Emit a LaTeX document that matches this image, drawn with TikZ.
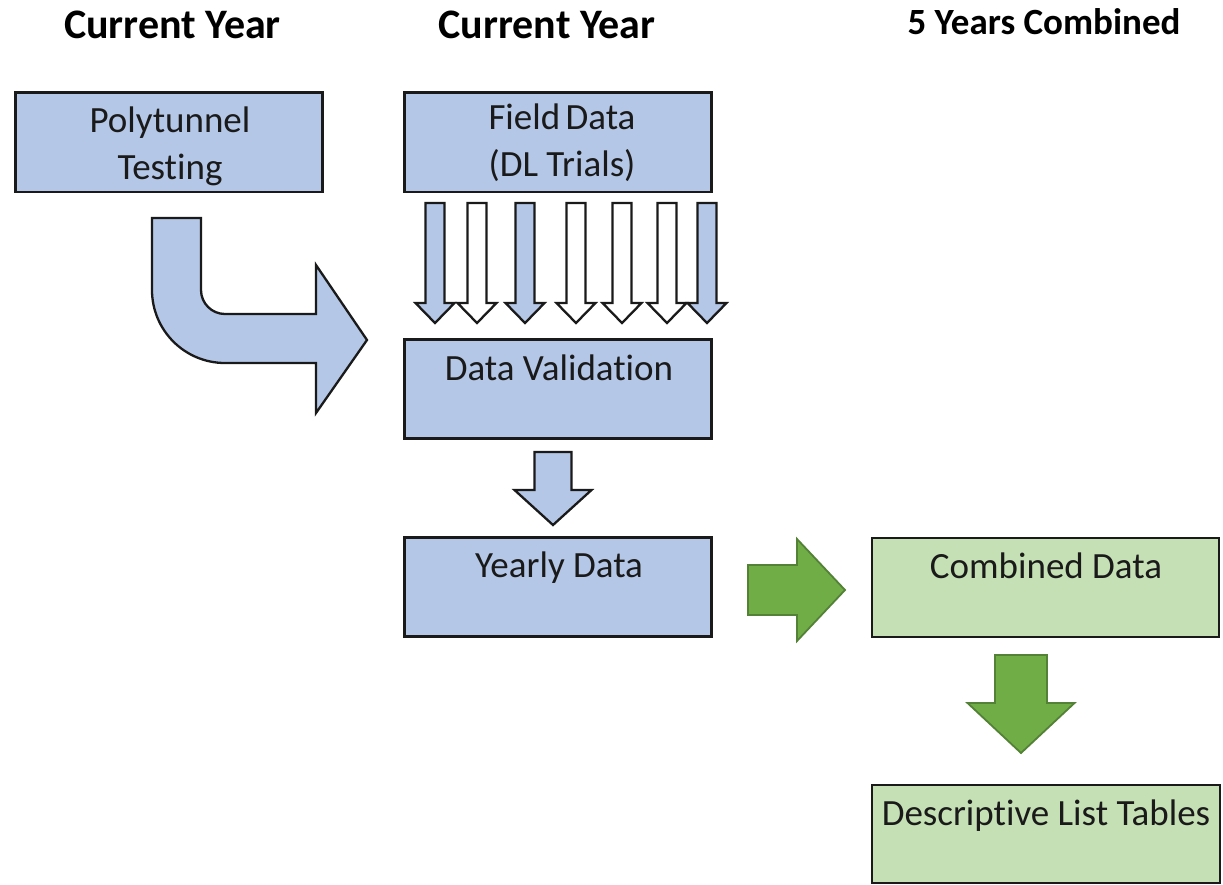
\documentclass[tikz,border=0pt]{standalone}
\usepackage{fontspec}
\setmainfont{Carlito}[Ligatures={NoCommon,NoContextual}]
\definecolor{boxblue}{HTML}{B4C7E7}
\definecolor{boxgreen}{HTML}{C5E0B4}
\definecolor{arrgreen}{HTML}{70AD47}
\definecolor{arrgreenline}{HTML}{538135}
\definecolor{edgedark}{HTML}{1A1A1A}
\tikzset{
  bluebox/.style={draw=edgedark, line width=2.5pt, fill=boxblue, inner sep=0pt},
  greenbox/.style={draw=edgedark, line width=2.5pt, fill=boxgreen, inner sep=0pt},
  boxtext/.style={font=\fontsize{37pt}{47pt}\selectfont, text=edgedark, inner sep=0pt, align=center},
  title/.style={font=\fontsize{42pt}{48pt}\selectfont\bfseries, inner sep=0pt},
  blockblue/.style={draw=edgedark, line width=2.3pt, fill=boxblue, line join=miter},
  blockwhite/.style={draw=edgedark, line width=2.3pt, fill=white, line join=miter},
  blockgreen/.style={draw=arrgreenline, line width=1.8pt, fill=arrgreen, line join=miter}
}
% down block arrow: style, cx, top y, head base y, tip y, half shaft, half head
\newcommand\DArr[7]{%
  \draw[#1] (#2-#6,#3) -- (#2+#6,#3) -- (#2+#6,#4) -- (#2+#7,#4) -- (#2,#5)
    -- (#2-#7,#4) -- (#2-#6,#4) -- cycle;}
\begin{document}
\begin{tikzpicture}[x=1pt,y=-1pt]
\useasboundingbox (0,0) rectangle (1223,884);

% titles
\node[title, anchor=base] (t1) at (172.5,38) {Current Year};
\node[title, anchor=base] (t2) at (547,38) {Current Year};
\node[title, anchor=base, font=\fontsize{37pt}{44pt}\selectfont\bfseries] (t3) at (1044,34) {5 Years Combined};

% boxes
\node[bluebox, minimum width=307pt, minimum height=99.5pt] (poly) at (169,142) {};
\node[bluebox, minimum width=307pt, minimum height=99.5pt] (field) at (558,142) {};
\node[bluebox, minimum width=307pt, minimum height=99pt] (valid) at (558,389) {};
\node[bluebox, minimum width=307pt, minimum height=99pt] (yearly) at (558,587) {};
\node[greenbox, minimum width=347pt, minimum height=99pt] (comb) at (1045.5,587.5) {};
\node[greenbox, minimum width=348pt, minimum height=98pt] (desc) at (1046,834) {};

% box texts
\node[boxtext] (polyT) at (170,146) {Polytunnel\\Testing};
\node[boxtext] (fieldT) at (562,143) {Field\hspace{-3pt} Data\\(DL Trials)};
\node[boxtext, anchor=base] (validT) at (559,380) {Data Validation};
\node[boxtext, anchor=base] (yearlyT) at (559,577) {Yearly Data};
\node[boxtext, anchor=base] (combT) at (1046,578) {Combined Data};
\node[boxtext, anchor=base] (descT) at (1046,825) {Descriptive List Tables};

% curved arrow from polytunnel to validation
\draw[blockblue] (152,218) -- (201,218) -- (201,290)
  arc[start angle=180, end angle=270, radius=24pt]
  -- (316,314) -- (316,265) -- (367,340) -- (316,413) -- (316,363) -- (225,363)
  arc[start angle=270, end angle=180, radius=73pt] -- cycle;

% row of arrows from field data
\DArr{blockblue}{435}{203}{303}{323}{9.5}{19.5}
\DArr{blockwhite}{477}{203}{303}{323}{9.5}{19.5}
\DArr{blockblue}{525}{203}{303}{323}{9.5}{19.5}
\DArr{blockwhite}{576}{203}{303}{323}{9.5}{19.5}
\DArr{blockwhite}{622}{203}{303}{323}{9.5}{19.5}
\DArr{blockwhite}{667}{203}{303}{323}{9.5}{19.5}
\DArr{blockblue}{707}{203}{303}{323}{9.5}{19.5}

% validation -> yearly
\DArr{blockblue}{553}{452}{490}{525}{18.5}{38.5}

% yearly -> combined
\draw[blockgreen] (748,565) -- (797,565) -- (797,539) -- (845,590) -- (797,641)
  -- (797,615) -- (748,615) -- cycle;

% combined -> descriptive
\DArr{blockgreen}{1021}{655}{703}{753}{26}{53.5}
\end{tikzpicture}
\end{document}
